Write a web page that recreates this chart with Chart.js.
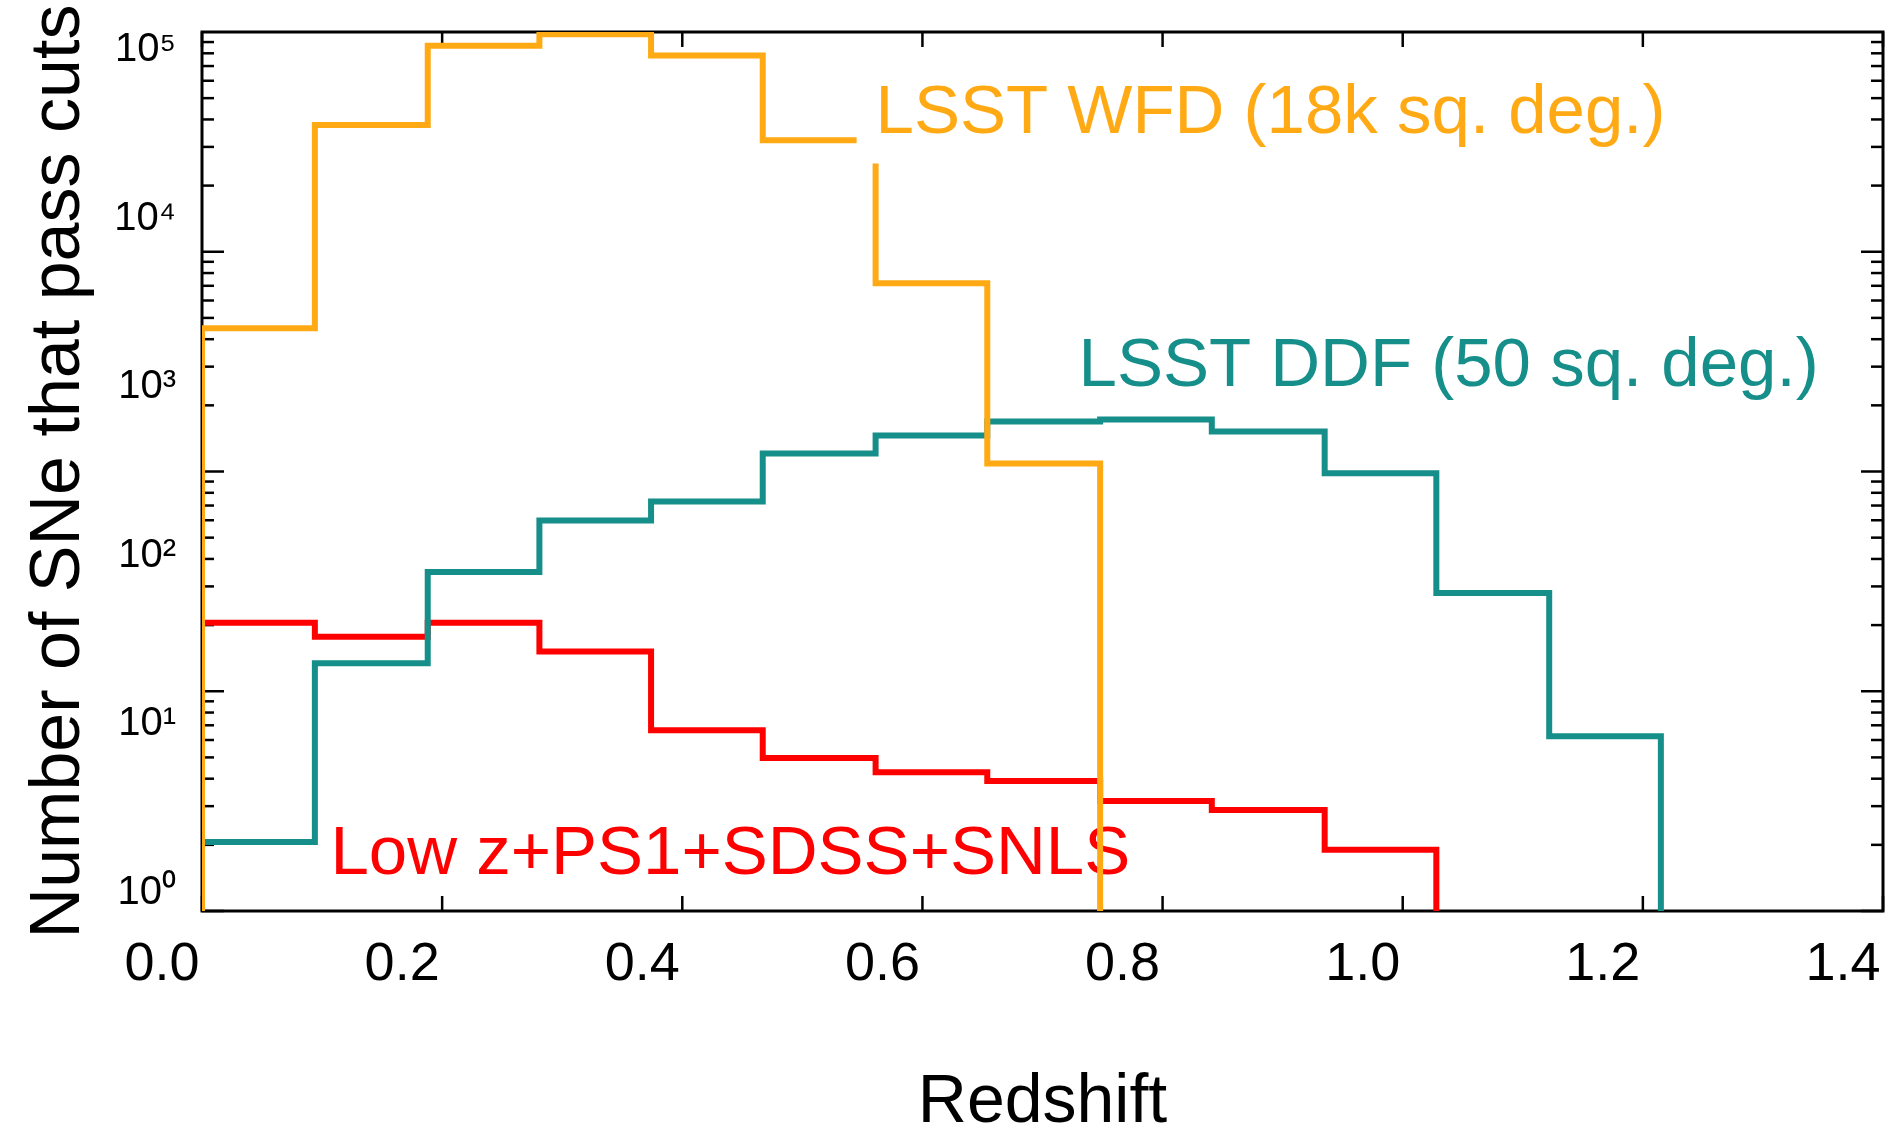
<!DOCTYPE html>
<html>
<head>
<meta charset="utf-8">
<title>Number of SNe that pass cuts vs redshift</title>
<script src="https://cdn.jsdelivr.net/npm/chart.js@4.4.1/dist/chart.umd.min.js"></script>
<style>
  html, body { margin: 0; padding: 0; background: #fff; }
</style>
</head>
<body>
<canvas id="snChart" width="1885" height="1136"></canvas>
<script>
/* globals Chart:false */

// redshift bin edges (13 bins)
const binEdges = [0, 0.094, 0.188, 0.281, 0.374, 0.467, 0.561, 0.654, 0.748, 0.841, 0.935, 1.028, 1.122, 1.215]

// counts per bin (0 = empty bin)
const wfdCounts = [2240, 35900, 106000, 124000, 93000, 29200, 4130, 352, 0, 0, 0, 0, 0]
const ddfCounts = [2.0, 23, 80, 162, 210, 404, 517, 626, 644, 546, 308, 60, 8.5]
const lowzCounts = [40, 33, 40, 27, 9.2, 6.3, 5.2, 4.6, 3.5, 3.1, 1.8, 0, 0]

const seriesNames = ['LSST WFD (18k sq. deg.)', 'LSST DDF (50 sq. deg.)', 'Low z+PS1+SDSS+SNLS']
const seriesColors = ['#ffaa14', '#168e8a', '#ff0000']

const xTicks = [0, 0.2, 0.4, 0.6, 0.8, 1.0, 1.2, 1.4]
const yTicks = [1, 10, 100, 1000, 10000, 100000]
const yTickLabels = ['10\u2070', '10\u00b9', '10\u00b2', '10\u00b3', '10\u2074', '10\u2075']

const FONT = '"Liberation Sans", Arial, Helvetica, sans-serif'
const FLOOR = 0.3 // below the axis minimum: empty bins drop to the frame

// where the series names sit, in data units (left edge, baseline)
const notes = [
  { series: 0, x: 0.561, y: 32000, box: true },
  { series: 1, x: 0.730, y: 1010 },
  { series: 2, x: 0.107, y: 1.3 }
]

function histPoints (counts) {
  let last = counts.length - 1
  while (last >= 0 && counts[last] === 0) last--
  const pts = [{ x: binEdges[0], y: FLOOR }]
  for (let i = 0; i <= last; i++) pts.push({ x: binEdges[i], y: counts[i] })
  pts.push({ x: binEdges[last + 1], y: FLOOR })
  return pts
}

// frame with inward ticks, like the original
const frameTicks = {
  id: 'frameTicks',
  beforeDatasetsDraw (chart) {
    const { ctx, chartArea: a, scales } = chart
    ctx.save()
    ctx.strokeStyle = '#000'
    ctx.lineWidth = 2.5
    const seg = (x1, y1, x2, y2) => {
      ctx.beginPath(); ctx.moveTo(x1, y1); ctx.lineTo(x2, y2); ctx.stroke()
    }
    const yf = scales.yFrame
    for (let d = 1; d < 1e4; d *= 10) {
      for (let k = 1; k <= 9; k++) {
        const py = yf.getPixelForValue(d * k)
        const len = k === 1 ? 22 : 12
        seg(a.left, py, a.left + len, py)
        seg(a.right, py, a.right - len, py)
      }
    }
    xTicks.forEach(v => {
      const px = scales.x.getPixelForValue(v)
      seg(px, a.bottom, px, a.bottom - 15)
      seg(px, a.top, px, a.top + 15)
    })
    ctx.lineWidth = 3
    ctx.strokeRect(a.left, a.top, a.right - a.left, a.bottom - a.top)
    ctx.restore()
  }
}

function drawNotes (chart, withBox) {
  const { ctx, scales } = chart
  ctx.save()
  ctx.font = '69px ' + FONT
  ctx.textAlign = 'left'
  ctx.textBaseline = 'alphabetic'
  notes.filter(n => !!n.box === withBox).forEach(n => {
    const px = scales.x.getPixelForValue(n.x)
    const py = scales.y.getPixelForValue(n.y)
    const text = seriesNames[n.series]
    if (n.box) {
      const w = ctx.measureText(text).width
      ctx.fillStyle = '#fff'
      ctx.fillRect(px - 19, py - 62, w + 30, 92)
    }
    ctx.fillStyle = seriesColors[n.series]
    ctx.fillText(text, px, py)
  })
  ctx.restore()
}

const seriesNotes = {
  id: 'seriesNotes',
  beforeDatasetsDraw (chart) { drawNotes(chart, false) },
  afterDatasetsDraw (chart) { drawNotes(chart, true) }
}

const ctx = document.getElementById('snChart')
// eslint-disable-next-line no-unused-vars
const snChart = new Chart(ctx, {
  type: 'line',
  data: {
    datasets: [wfdCounts, ddfCounts, lowzCounts].map((counts, i) => ({
      label: seriesNames[i],
      data: histPoints(counts),
      borderColor: seriesColors[i],
      borderWidth: 6,
      stepped: true,
      pointRadius: 0,
      fill: false,
      yAxisID: 'y'
    }))
  },
  options: {
    responsive: false,
    animation: false,
    layout: { padding: { top: 32, right: 2, left: 0, bottom: 0 } },
    plugins: {
      legend: { display: false },
      tooltip: { enabled: false }
    },
    scales: {
      x: {
        type: 'linear',
        min: 0,
        max: 1.4,
        afterBuildTicks: scale => { scale.ticks = xTicks.map(v => ({ value: v })) },
        afterFit: scale => {
          scale.height = 225
          scale.paddingLeft = 0
          scale.paddingRight = 0
        },
        grid: { display: false, drawTicks: false },
        border: { display: false },
        ticks: {
          padding: 22,
          labelOffset: -40,
          color: '#000',
          font: { family: FONT, size: 54 },
          callback: v => v.toFixed(1)
        },
        title: {
          display: true,
          text: 'Redshift',
          color: '#000',
          font: { family: FONT, size: 68, lineHeight: 0.95 },
          padding: { top: 0, bottom: 0 }
        }
      },
      y: {
        type: 'logarithmic',
        min: 0.78,
        max: 128000,
        afterBuildTicks: scale => { scale.ticks = yTicks.map(v => ({ value: v })) },
        afterFit: scale => {
          scale.width = 202
          scale.paddingTop = 0
          scale.paddingBottom = 0
        },
        grid: { display: false, drawTicks: false },
        border: { display: false },
        ticks: {
          padding: 26,
          color: '#000',
          font: { family: FONT, size: 40 },
          callback: v => yTickLabels[yTicks.indexOf(v)]
        },
        title: {
          display: true,
          text: 'Number of SNe that pass cuts',
          color: '#000',
          font: { family: FONT, size: 70 },
          padding: { top: 18, bottom: 0 }
        }
      },
      yFrame: {
        type: 'logarithmic',
        position: 'right',
        min: 1,
        max: 10000,
        display: false
      }
    }
  },
  plugins: [frameTicks, seriesNotes]
})
</script>
</body>
</html>
